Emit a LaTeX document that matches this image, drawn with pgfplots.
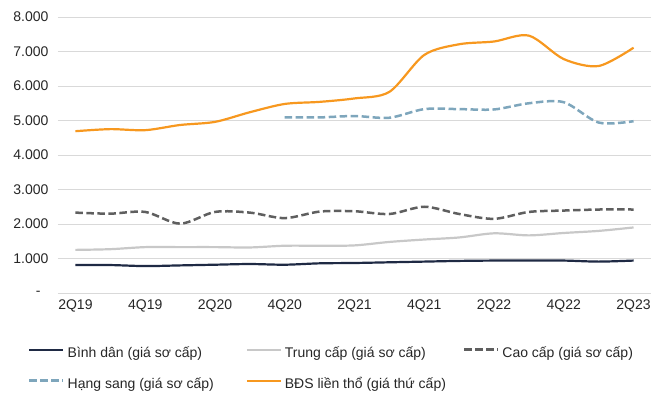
\documentclass[border=0pt]{standalone}
\usepackage{pgfplots}
\pgfplotsset{compat=1.18}
\usepackage{fontspec}
\setmainfont{Liberation Sans}
\definecolor{cNavy}{HTML}{1F2A44}
\definecolor{cLGray}{HTML}{C8C8C8}
\definecolor{cDGray}{HTML}{5F5F5F}
\definecolor{cLBlue}{HTML}{7EA6BC}
\definecolor{cOrange}{HTML}{F7981F}
\definecolor{cGrid}{HTML}{D9D9D9}
\definecolor{cText}{HTML}{262626}
\begin{document}
\begin{tikzpicture}
\begin{axis}[
  at={(0,0)}, anchor=south west,
  scale only axis,
  width=593bp, height=276bp,
  xmin=-0.5, xmax=16.5,
  ymin=0, ymax=8000,
  axis line style={draw=none},
  tick style={draw=none},
  ymajorgrids,
  grid style={cGrid, line width=1bp},
  xtick={0,2,...,16},
  xticklabels={2Q19,4Q19,2Q20,4Q20,2Q21,4Q21,2Q22,4Q22,2Q23},
  ytick={0,1000,...,8000},
  yticklabels={-\kern8bp,1.000,2.000,3.000,4.000,5.000,6.000,7.000,8.000},
  ticklabel style={font=\fontsize{14bp}{16bp}\selectfont, text=cText},
  yticklabel style={xshift=-6bp},
  xticklabel style={yshift=-3bp},
  clip=false,
  legend columns=3,
  legend cell align=left,
  legend style={
    at={(-0.0506,-0.1957)}, anchor=north west,
    draw=none, fill=none, inner sep=0pt,
    font=\fontsize{14bp}{16bp}\selectfont,
    text=cText,
    nodes={inner sep=0pt, text height=10bp, text depth=3bp},
    row sep=18bp,
    /tikz/every odd column/.append style={column sep=3bp},
  },
  legend image code/.code={\draw[#1] (0bp,4bp) -- (34bp,4bp);},
  every axis plot/.append style={line width=2.2bp, smooth, tension=0.5},
]
\addplot[cNavy] coordinates {
(0,810) (1,810) (2,780) (3,800) (4,820) (5,840) (6,820) (7,860) (8,870)
(9,890) (10,910) (11,930) (12,940) (13,940) (14,940) (15,910) (16,940)};
\addlegendentry{\makebox[178bp][l]{Bình dân (giá sơ cấp)}}
\addplot[cLGray] coordinates {
(0,1250) (1,1270) (2,1330) (3,1330) (4,1330) (5,1320) (6,1370) (7,1370) (8,1380)
(9,1480) (10,1550) (11,1610) (12,1730) (13,1670) (14,1740) (15,1800) (16,1900)};
\addlegendentry{\makebox[178bp][l]{Trung cấp (giá sơ cấp)}}
\addplot[cDGray, line width=2.5bp, dash pattern=on 7.5bp off 3.5bp] coordinates {
(0,2330) (1,2300) (2,2350) (3,2010) (4,2350) (5,2330) (6,2170) (7,2360) (8,2370)
(9,2290) (10,2500) (11,2290) (12,2150) (13,2350) (14,2390) (15,2420) (16,2420)};
\addlegendentry{\makebox[178bp][l]{Cao cấp (giá sơ cấp)}}
\addplot[cLBlue, line width=2.5bp, dash pattern=on 7.5bp off 3.5bp] coordinates {
(6,5090) (7,5090) (8,5130) (9,5080) (10,5330) (11,5330) (12,5320) (13,5500)
(14,5530) (15,4940) (16,4980)};
\addlegendentry{\makebox[178bp][l]{Hạng sang (giá sơ cấp)}}
\addplot[cOrange] coordinates {
(0,4690) (1,4750) (2,4720) (3,4870) (4,4960) (5,5240) (6,5480) (7,5540) (8,5640)
(9,5830) (10,6900) (11,7210) (12,7290) (13,7460) (14,6780) (15,6580) (16,7110)};
\addlegendentry{\makebox[178bp][l]{BĐS liền thổ (giá thứ cấp)}}
\end{axis}
\pgfresetboundingbox
\useasboundingbox (-58bp,-114bp) rectangle (594bp,293bp);
\end{tikzpicture}
\end{document}
